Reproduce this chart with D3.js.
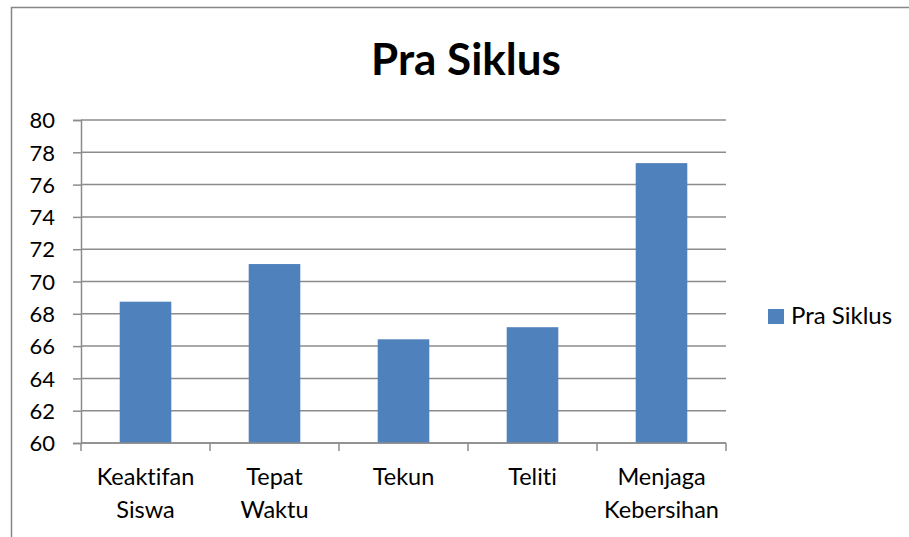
<!DOCTYPE html>
<html>
<head>
<meta charset="utf-8">
<script src="https://cdn.jsdelivr.net/npm/d3@7"></script>
<style>
  body { margin: 0; background: #fff; }
  svg text { font-family: Lato, "Open Sans", sans-serif; fill: #000; font-variant-ligatures: none; font-feature-settings: "liga" 0; }
</style>
</head>
<body>
<div id="chart"></div>
<script>
  const categories = [['Keaktifan', 'Siswa'], ['Tepat', 'Waktu'], ['Tekun'], ['Teliti'], ['Menjaga', 'Kebersihan']];
  const values = [68.75, 71.08, 66.42, 67.17, 77.33];
  const yTicks = [60, 62, 64, 66, 68, 70, 72, 74, 76, 78, 80];
  const seriesName = 'Pra Siklus';
  const title = 'Pra Siklus';

  const width = 909, height = 537;
  const margin = { top: 120, left: 81, right: 183, bottom: 94 };
  const innerW = width - margin.left - margin.right;
  const innerH = height - margin.top - margin.bottom;

  const svg = d3.select('#chart').append('svg')
    .attr('width', width)
    .attr('height', height);

  // Chart frame (right/bottom edges are off-canvas)
  svg.append('rect')
    .attr('x', 11.5).attr('y', 7.5)
    .attr('width', 920).attr('height', 560)
    .attr('fill', 'none').attr('stroke', '#868686').attr('stroke-width', 1.5);

  svg.append('text')
    .attr('x', 466).attr('y', 75)
    .attr('text-anchor', 'middle')
    .attr('font-size', 44).attr('font-weight', 'bold')
    .text(title);

  const g = svg.append('g').attr('transform', `translate(${margin.left},${margin.top})`);

  const x = d3.scaleBand().domain(d3.range(categories.length)).range([0, innerW]).paddingInner(0.6).paddingOuter(0.3);
  const xCat = d3.scaleBand().domain(d3.range(categories.length)).range([0, innerW]);
  const y = d3.scaleLinear().domain([60, 80]).range([innerH, 0]);

  // gridlines
  g.selectAll('line.grid').data(yTicks).enter().append('line')
    .attr('x1', 0).attr('x2', innerW)
    .attr('y1', d => y(d)).attr('y2', d => y(d))
    .attr('stroke', '#8c8c8c').attr('stroke-width', 1.5);

  // bars
  g.selectAll('rect.bar').data(values).enter().append('rect')
    .attr('x', (d, i) => x(i))
    .attr('width', x.bandwidth())
    .attr('y', d => y(d))
    .attr('height', d => innerH - y(d))
    .attr('fill', '#4f81bd');

  // y axis
  const yAxis = g.append('g')
    .call(d3.axisLeft(y).tickValues(yTicks).tickSize(8).tickPadding(18));
  yAxis.select('.domain').attr('stroke', '#8c8c8c').attr('stroke-width', 1.5);
  yAxis.selectAll('.tick line').attr('stroke', '#8c8c8c').attr('stroke-width', 1.5);
  yAxis.selectAll('.tick text').attr('font-size', 22).attr('dy', '0.35em').style('font-family', 'Lato, sans-serif');

  // x axis
  const xAxisG = g.append('g').attr('transform', `translate(0,${innerH})`);
  xAxisG.append('line').attr('x1', 0).attr('x2', innerW).attr('stroke', '#8c8c8c').attr('stroke-width', 1.5);
  const bounds = d3.range(categories.length + 1).map(i => i === categories.length ? innerW : xCat(i));
  xAxisG.selectAll('line.tick').data(bounds).enter().append('line')
    .attr('x1', d => d).attr('x2', d => d).attr('y1', 0).attr('y2', 8)
    .attr('stroke', '#8c8c8c').attr('stroke-width', 1.5);
  const labels = xAxisG.selectAll('text.cat').data(categories).enter().append('text')
    .attr('text-anchor', 'middle')
    .attr('font-size', 23.5)
    .attr('transform', (d, i) => `translate(${xCat(i) + xCat.bandwidth() / 2},0)`);
  labels.selectAll('tspan').data(d => d).enter().append('tspan')
    .attr('x', 0)
    .attr('y', (d, i) => 42 + i * 33)
    .text(d => d);

  // legend
  const lg = svg.append('g').attr('transform', 'translate(768,309)');
  lg.append('rect').attr('width', 16).attr('height', 15).attr('fill', '#4f81bd');
  lg.append('text').attr('x', 23).attr('y', 15).attr('font-size', 24).text(seriesName);
</script>
</body>
</html>
